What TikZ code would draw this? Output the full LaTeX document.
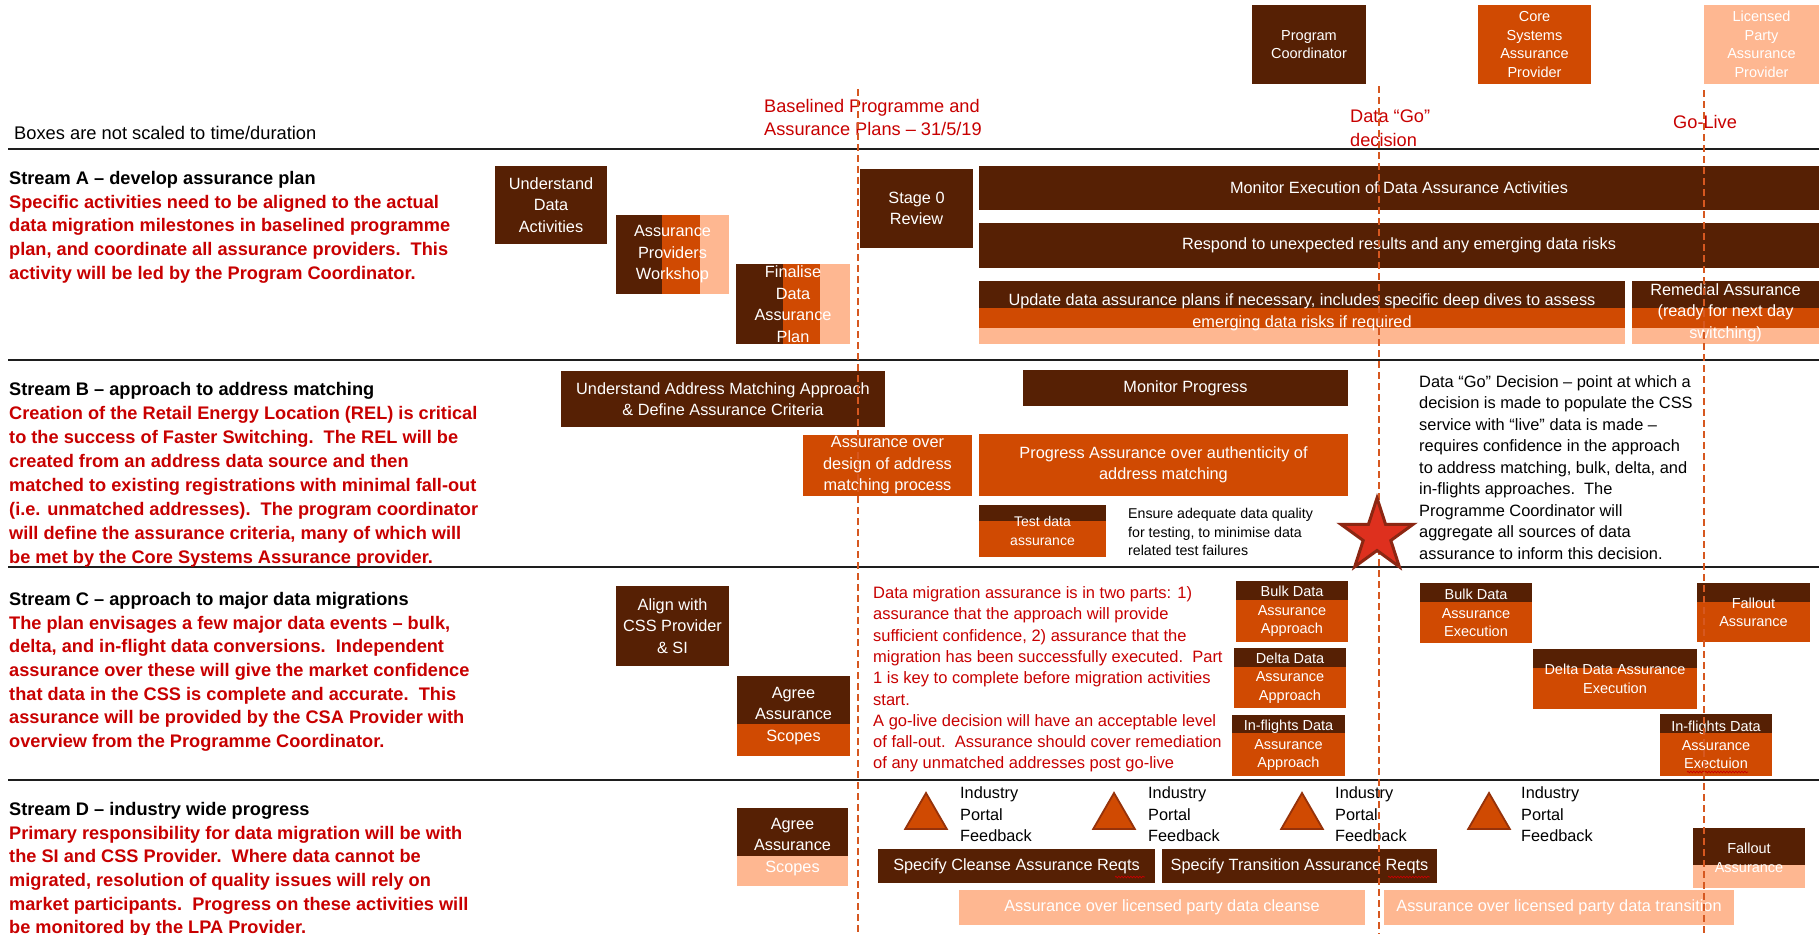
\documentclass[tikz,border=0pt]{standalone}
\usepackage{fontspec}
\setmainfont{Liberation Sans}
\usetikzlibrary{shapes.geometric,decorations.pathmorphing}
\definecolor{darkC}{RGB}{86,32,4}
\definecolor{orangeC}{RGB}{208,74,2}
\definecolor{lightC}{RGB}{254,183,145}
\definecolor{redC}{RGB}{200,0,0}
\definecolor{dashC}{RGB}{214,88,32}
\definecolor{starC}{RGB}{222,48,30}
\definecolor{starEdge}{RGB}{140,38,18}
\definecolor{triEdge}{RGB}{150,50,10}
\definecolor{ruleC}{RGB}{30,30,30}
\newcommand\myfs[2]{\fontsize{#1pt}{#2pt}\selectfont}
\tikzset{
 box/.style={inner sep=0pt,outer sep=0pt,text=white,align=center,font=\myfs{16.3}{21.5}},
 small/.style={font=\myfs{14.5}{18.5}},
 dk/.style={box,fill=darkC},
 og/.style={box,fill=orangeC},
 lt/.style={box,fill=lightC},
 dktop/.style={path picture={\fill[darkC] (path picture bounding box.north west) rectangle ([yshift=-#1]path picture bounding box.north east);}},
 hbands/.style={fill=lightC,path picture={\fill[orangeC] (path picture bounding box.north west) rectangle ([yshift=-47pt]path picture bounding box.north east); \fill[darkC] (path picture bounding box.north west) rectangle ([yshift=-27pt]path picture bounding box.north east);}},
 vbands/.style 2 args={fill=lightC,path picture={\fill[orangeC] (path picture bounding box.north west) rectangle ([xshift=#2]path picture bounding box.south west); \fill[darkC] (path picture bounding box.north west) rectangle ([xshift=#1]path picture bounding box.south west);}},
 streamtxt/.style={anchor=north west,inner sep=0pt,align=left,text=redC,font=\bfseries\myfs{18.2}{23.7}},
 mlabel/.style={anchor=north west,inner sep=0pt,align=left,text=redC,font=\myfs{18.2}{23.5}},
 plain/.style={anchor=north west,inner sep=0pt,align=left,text=black,font=\myfs{16.4}{21.5}},
 milestone/.style={draw=dashC,line width=2pt,dash pattern=on 7pt off 4pt},
 rulel/.style={draw=ruleC,line width=2.6pt},
 tri/.style={regular polygon,regular polygon sides=3,minimum size=48pt,inner sep=0pt,fill=orangeC,draw=triEdge,line width=1.8pt},
 squig/.style={draw=redC,line width=0.7pt,decorate,decoration={snake,segment length=3pt,amplitude=0.8pt}}
}
\begin{document}
\begin{tikzpicture}[x=1pt,y=-1pt]
\useasboundingbox (0,0) rectangle (1819,934);
\fill[white] (0,0) rectangle (1819,934);

% separator rules
\coordinate (r0a) at (8,149); \coordinate (r0b) at (1819,149);
\coordinate (r1a) at (8,360); \coordinate (r1b) at (1819,360);
\coordinate (r2a) at (8,567); \coordinate (r2b) at (1819,567);
\coordinate (r3a) at (8,780); \coordinate (r3b) at (1819,780);
\draw[rulel] (r0a) -- (r0b);
\draw[rulel] (r1a) -- (r1b);
\draw[rulel] (r2a) -- (r2b);
\draw[rulel] (r3a) -- (r3b);

% header texts
\node[plain,font=\myfs{18.3}{22}] (note) at (14,126) {Boxes are not scaled to time/duration};
\node[mlabel] (blabel) at (764,98.7) {Baselined Programme and\\Assurance Plans – 31/5/19};
\node[mlabel] (glabel) at (1350,109.7) {Data “Go”\\decision};
\node[mlabel] (golive) at (1673,114.7) {Go-Live};

% provider boxes
\node[dk,small,minimum width=114pt,minimum height=79pt] (pc) at (1309,44.5) {Program\\Coordinator};
\node[og,small,minimum width=113pt,minimum height=79pt] (csap) at (1534.5,44.5) {Core\\Systems\\Assurance\\Provider};
\node[lt,small,minimum width=115pt,minimum height=79pt] (lpap) at (1761.5,44.5) {Licensed\\Party\\Assurance\\Provider};

% stream descriptions
\node[streamtxt] (sa) at (9,171) {{\color{black}Stream A – develop assurance plan}\\
Specific activities need to be aligned to the actual\\
data migration milestones in baselined programme\\
plan, and coordinate all assurance providers.\ \ This\\
activity will be led by the Program Coordinator.};
\node[streamtxt,font=\bfseries\myfs{18.2}{24}] (sb) at (9,382) {{\color{black}Stream B – approach to address matching}\\
Creation of the Retail Energy Location (REL) is critical\\
to the success of Faster Switching.\ \ The REL will be\\
created from an address data source and then\\
matched to existing registrations with minimal fall-out\\
(i.e. unmatched addresses).\ \ The program coordinator\\
will define the assurance criteria, many of which will\\
be met by the Core Systems Assurance provider.};
\node[streamtxt] (sc) at (9,592) {{\color{black}Stream C – approach to major data migrations}\\
The plan envisages a few major data events – bulk,\\
delta, and in-flight data conversions.\ \ Independent\\
assurance over these will give the market confidence\\
that data in the CSS is complete and accurate.\ \ This\\
assurance will be provided by the CSA Provider with\\
overview from the Programme Coordinator.};
\node[streamtxt] (sd) at (9,802) {{\color{black}Stream D – industry wide progress}\\
Primary responsibility for data migration will be with\\
the SI and CSS Provider.\ \ Where data cannot be\\
migrated, resolution of quality issues will rely on\\
market participants.\ \ Progress on these activities will\\
be monitored by the LPA Provider.};

% Stream A boxes
\node[dk,minimum width=112pt,minimum height=78pt] (uda) at (551,205) {Understand\\Data\\Activities};
\node[box,vbands={46pt}{84pt},minimum width=113pt,minimum height=79pt] (apw) at (672.5,254.5) {Assurance\\Providers\\Workshop};
\node[box,vbands={47pt}{84pt},minimum width=114pt,minimum height=80pt] (fdap) at (793,304) {Finalise\\Data\\Assurance\\Plan};
\node[dk,minimum width=113pt,minimum height=79pt] (s0r) at (916.5,208.5) {Stage 0\\Review};
\node[dk,minimum width=840pt,minimum height=44pt] (mexe) at (1399,188) {Monitor Execution of Data Assurance Activities};
\node[dk,minimum width=840pt,minimum height=45pt] (resp) at (1399,245.5) {Respond to unexpected results and any emerging data risks};
\node[box,hbands,minimum width=646pt,minimum height=63pt] (upd) at (1302,312.5) {Update data assurance plans if necessary, includes specific deep dives to assess\\emerging data risks if required};
\node[box,hbands,minimum width=187pt,minimum height=63pt] (rem) at (1725.5,312.5) {Remedial Assurance\\(ready for next day\\switching)};

% Stream B boxes
\node[dk,minimum width=324pt,minimum height=56pt] (uam) at (723,399) {Understand Address Matching Approach\\\& Define Assurance Criteria};
\node[og,minimum width=169pt,minimum height=61pt] (aod) at (887.5,465.5) {Assurance over\\design of address\\matching process};
\node[dk,minimum width=325pt,minimum height=36pt] (mp) at (1185.5,388) {Monitor Progress};
\node[og,minimum width=369pt,minimum height=62pt] (paa) at (1163.5,465) {Progress Assurance over authenticity of\\address matching};
\node[og,dktop=16pt,font=\myfs{14}{19},minimum width=127pt,minimum height=52pt] (tda) at (1042.5,531) {Test data\\assurance};
\node[plain,font=\myfs{14.2}{18.5}] (ensure) at (1128,508.3) {Ensure adequate data quality\\for testing, to minimise data\\related test failures};
\node[plain] (gotext) at (1419,375.4) {Data “Go” Decision – point at which a\\
decision is made to populate the CSS\\
service with “live” data is made –\\
requires confidence in the approach\\
to address matching, bulk, delta, and\\
in-flights approaches.\ \ The\\
Programme Coordinator will\\
aggregate all sources of data\\
assurance to inform this decision.};

% Stream C boxes
\node[dk,minimum width=113pt,minimum height=80pt] (align) at (672.5,626) {Align with\\CSS Provider\\\& SI};
\node[og,dktop=48pt,minimum width=113pt,minimum height=80pt] (agc) at (793.5,716) {Agree\\Assurance\\Scopes};
\node[plain,text=redC,font=\myfs{16.5}{21.3}] (para) at (873,586.4) {Data migration assurance is in two parts: 1)\\
assurance that the approach will provide\\
sufficient confidence, 2) assurance that the\\
migration has been successfully executed.\ \ Part\\
1 is key to complete before migration activities\\
start.\\
A go-live decision will have an acceptable level\\
of fall-out.\ \ Assurance should cover remediation\\
of any unmatched addresses post go-live};
\node[og,small,dktop=19pt,minimum width=112pt,minimum height=61pt] (bda) at (1292,611.5) {Bulk Data\\Assurance\\Approach};
\node[og,small,dktop=19pt,minimum width=112pt,minimum height=60pt] (dda) at (1290,678) {Delta Data\\Assurance\\Approach};
\node[og,small,dktop=18pt,minimum width=113pt,minimum height=61pt] (ifa) at (1288.5,745.5) {In-flights Data\\Assurance\\Approach};
\node[og,small,dktop=19pt,minimum width=112pt,minimum height=60pt] (bde) at (1476,613) {Bulk Data\\Assurance\\Execution};
\node[og,small,dktop=19pt,minimum width=164pt,minimum height=60pt] (dde) at (1615,679) {Delta Data Assurance\\Execution};
\node[og,small,dktop=19pt,minimum width=112pt,minimum height=62pt] (ife) at (1716,745) {In-flights Data\\Assurance\\Exectuion};
\node[og,small,dktop=19pt,minimum width=113pt,minimum height=59pt] (foc) at (1753.5,612.5) {Fallout\\Assurance};

% Stream D boxes
\node[lt,dktop=48pt,minimum width=111pt,minimum height=78pt] (agd) at (792.5,847) {Agree\\Assurance\\Scopes};
\node[tri] (t1) at (926,817) {};
\node[tri] (t2) at (1114,817) {};
\node[tri] (t3) at (1302,817) {};
\node[tri] (t4) at (1489,817) {};
\node[plain,font=\myfs{16.3}{21.5}] (ip1) at (960,786.5) {Industry\\Portal\\Feedback};
\node[plain,font=\myfs{16.3}{21.5}] (ip2) at (1148,786.5) {Industry\\Portal\\Feedback};
\node[plain,font=\myfs{16.3}{21.5}] (ip3) at (1335,786.5) {Industry\\Portal\\Feedback};
\node[plain,font=\myfs{16.3}{21.5}] (ip4) at (1521,786.5) {Industry\\Portal\\Feedback};
\node[dk,minimum width=277pt,minimum height=34pt] (scr) at (1016.5,866) {Specify Cleanse Assurance Reqts};
\node[dk,minimum width=275pt,minimum height=34pt] (str) at (1299.5,866) {Specify Transition Assurance Reqts};
\node[lt,minimum width=406pt,minimum height=35pt] (alc) at (1162,907.5) {Assurance over licensed party data cleanse};
\node[lt,minimum width=350pt,minimum height=35pt] (alt) at (1559,907.5) {Assurance over licensed party data transition};
\node[lt,small,dktop=37pt,minimum width=112pt,minimum height=60pt] (fod) at (1749,858) {Fallout\\Assurance};

% spelling marks
\coordinate (q1a) at (1687,772); \coordinate (q1b) at (1748,772);
\coordinate (q2a) at (1115,877); \coordinate (q2b) at (1145,877);
\coordinate (q3a) at (1388,877); \coordinate (q3b) at (1430,877);
\draw[squig] (q1a) -- (q1b);
\draw[squig] (q2a) -- (q2b);
\draw[squig] (q3a) -- (q3b);

% milestone lines
\coordinate (m1a) at (858,89); \coordinate (m1b) at (858,934);
\coordinate (m2a) at (1379,86); \coordinate (m2b) at (1379,934);
\coordinate (m3a) at (1704,90); \coordinate (m3b) at (1704,934);
\draw[milestone] (m1a) -- (m1b);
\draw[milestone] (m2a) -- (m2b);
\draw[milestone] (m3a) -- (m3b);

% go decision star
\node[star,star points=5,star point ratio=2.618,minimum size=76pt,inner sep=0pt,fill=starC,draw=starEdge,line width=3pt] (gostar) at (1377,536) {};
\end{tikzpicture}
\end{document}
